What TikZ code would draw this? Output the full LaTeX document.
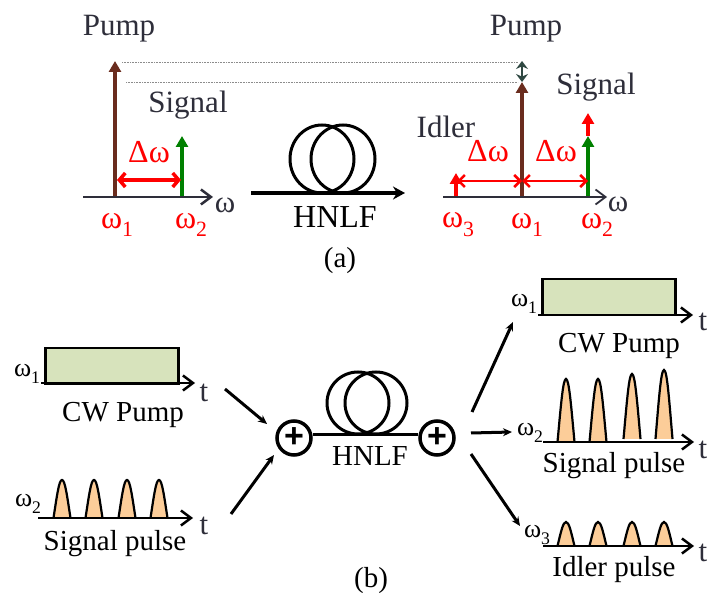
\documentclass[tikz,border=0pt]{standalone}
\usepackage{fontspec}
\setmainfont{Liberation Serif}
\newfontfamily\plusfont{Liberation Sans}
\usetikzlibrary{arrows.meta,positioning,calc,shapes.geometric}
\definecolor{inkgray}{RGB}{46,46,58}
\definecolor{pumpbrown}{RGB}{106,44,30}
\definecolor{signalgreen}{RGB}{0,128,0}
\definecolor{cwgreen}{RGB}{215,227,188}
\definecolor{pulseorange}{RGB}{252,205,153}
\definecolor{shiftgray}{RGB}{47,72,66}
\newcommand{\omegasub}[1]{ω\raisebox{-0.28em}{\scalebox{0.68}{#1}}}
\newcommand{\pulse}[3]{%
  \draw[pulseline] ({#1-8.5},#2) .. controls ({#1-5},{#2-0.6*(#2-#3)}) and ({#1-3},#3) .. (#1,#3)
    .. controls ({#1+3},#3) and ({#1+5},{#2-0.6*(#2-#3)}) .. ({#1+8.5},#2);}

\begin{document}
\begin{tikzpicture}[
            x=1pt, y=-1pt,
            lbl/.style={inner sep=0pt, font=\fontsize{31}{31}\selectfont, text=inkgray},
            lblb/.style={inner sep=0pt, font=\fontsize{29}{29}\selectfont, text=black},
            redlbl/.style={inner sep=0pt, font=\fontsize{32}{32}\selectfont, text=red},
            smalllbl/.style={inner sep=0pt, font=\fontsize{26}{26}\selectfont, text=black},
            axisline/.style={-{Straight Barb[length=10pt,width=15pt]}, line width=2.5pt, black},
            spec/.style={-{Triangle[length=11pt,width=12pt]}, line width=4pt},
            gap/.style={{Straight Barb[length=6pt,width=14pt]}-{Straight Barb[length=6pt,width=14pt]}, line width=3.5pt, red},
            gapthin/.style={{Straight Barb[length=6pt,width=12pt]}-{Straight Barb[length=6pt,width=12pt]}, line width=2.5pt, red},
            flow/.style={-{Stealth[length=9pt,width=8pt]}, line width=3pt, black},
            fiber/.style={line width=3pt, black},
            guide/.style={densely dotted, line width=0.6pt, black!45},
            cwbox/.style={draw=black, line width=2.5pt, fill=cwgreen, minimum width=133pt, minimum height=36pt, inner sep=0pt},
            pulseline/.style={draw=black, line width=2.2pt, fill=pulseorange},
            loopa/.style={draw=black, line width=3pt, ellipse, minimum width=64pt, minimum height=68pt, inner sep=0pt},
            loopb/.style={draw=black, line width=3pt, circle, minimum size=62pt, inner sep=0pt},
            adder/.style={circle, draw=black, line width=3.5pt, minimum size=34pt, inner sep=0pt,
                          font=\plusfont\bfseries\fontsize{34}{34}\selectfont}
        ]
            \useasboundingbox (0,0) rectangle (707,593);

            % Coordinates - spectrum (a), left
            \coordinate (axa0) at (83,197);
            \coordinate (axa1) at (213,197);
            \coordinate (pumpa0) at (115,197);
            \coordinate (pumpa1) at (115,61);
            \coordinate (siga0) at (182,197);
            \coordinate (siga1) at (182,136);

            % Coordinates - spectrum (a), right
            \coordinate (axc0) at (443,197);
            \coordinate (axc1) at (607,197);
            \coordinate (idlc0) at (456,197);
            \coordinate (idlc1) at (456,173);
            \coordinate (pumpc0) at (522,197);
            \coordinate (pumpc1) at (522,82);
            \coordinate (pumpc2) at (522,61);
            \coordinate (sigc0) at (588,197);
            \coordinate (sigc1) at (588,136);
            \coordinate (sigc2) at (588,113);
            \coordinate (gapc0) at (457,181);
            \coordinate (gapc1) at (522,181);
            \coordinate (gapc2) at (588,181);

            % Guides
            \coordinate (guide0) at (122,62);
            \coordinate (guide1) at (518,62);
            \coordinate (guide2) at (126,82);
            \coordinate (guide3) at (518,82);
            \draw[guide] (guide0) -- (guide1);
            \draw[guide] (guide2) -- (guide3);

            % Arrows - spectrum (a), left
            \draw[spec, pumpbrown] (pumpa0) -- (pumpa1);
            \draw[spec, signalgreen] (siga0) -- (siga1);
            \draw[axisline, inkgray] (axa0) -- (axa1);
            \coordinate (gapa0) at (117,180);
            \coordinate (gapa1) at (181,180);
            \draw[gap] (gapa0) -- (gapa1);

            % Arrows - spectrum (a), right
            \draw[{Stealth[length=8pt,width=12pt]}-{Stealth[length=8pt,width=12pt]}, line width=2.5pt, shiftgray] (pumpc1) -- (pumpc2);
            \draw[spec, pumpbrown] (pumpc0) -- (pumpc1);
            \draw[spec, red] (sigc1) -- (sigc2);
            \draw[spec, signalgreen] (sigc0) -- (sigc1);
            \draw[spec, red] (idlc0) -- (idlc1);
            \draw[axisline, inkgray, line width=1.8pt] (axc0) -- (axc1);
            \draw[gapthin] (gapc0) -- (gapc1);
            \draw[gapthin] (gapc1) -- (gapc2);

            % Labels - spectrum (a)
            \node[lbl] (pumpa) at (119,29) {Pump};
            \node[lbl] (signala) at (188,105) {Signal};
            \node[redlbl] (dwa) at (149,152) {Δω};
            \node[redlbl] (w1a) at (117,225) {\omegasub{1}};
            \node[redlbl] (w2a) at (191,225) {\omegasub{2}};
            \node[lbl] (wa) at (225,205) {ω};
            \node[lbl] (pumpc) at (526,29) {Pump};
            \node[lbl] (signalc) at (596,87) {Signal};
            \node[lbl] (idlerc) at (446,127) {Idler};
            \node[redlbl] (dwc1) at (488,151) {Δω};
            \node[redlbl] (dwc2) at (556,151) {Δω};
            \node[redlbl] (w3c) at (458,225) {\omegasub{3}};
            \node[redlbl] (w1c) at (527,225) {\omegasub{1}};
            \node[redlbl] (w2c) at (597,225) {\omegasub{2}};
            \node[lbl] (wc) at (618,204) {ω};

            % Fiber (a)
            \node[loopa] (loopa1) at (322,159) {};
            \node[loopa] (loopa2) at (343,159) {};
            \coordinate (fibera0) at (251,193);
            \coordinate (fibera1) at (405,193);
            \draw[fiber, -{Stealth[length=12pt,width=13pt]}, line width=3.5pt] (fibera0) -- (fibera1);
            \node[lblb, font=\fontsize{32}{32}\selectfont] (hnlfa) at (335,217) {HNLF};
            \node[lblb] (capa) at (340,261) {(a)};

            % Inputs (b)
            \node[cwbox, anchor=north west] (cwin) at (44,347) {};
            \coordinate (axin0) at (41,383);
            \coordinate (axin1) at (195,383);
            \draw[axisline] (axin0) -- (axin1);
            \node[lbl] (tin1) at (204,393) {t};
            \node[smalllbl] (w1in) at (27,374) {\omegasub{1}};
            \node[lblb] (cwinl) at (123,415) {CW Pump};
            \foreach \px in {62,94,127,159} { \pulse{\px}{518}{480} }
            \coordinate (axin2) at (38,518);
            \coordinate (axin3) at (193,518);
            \draw[axisline] (axin2) -- (axin3);
            \node[lbl] (tin2) at (204,526) {t};
            \node[smalllbl] (w2in) at (28,504) {\omegasub{2}};
            \node[lblb] (sigin) at (115,544) {Signal pulse};

            % Fiber (b)
            \node[loopb] (loopb1) at (358,403) {};
            \node[loopb] (loopb2) at (376,403) {};
            \node[adder] (addl) at (294,438) {+};
            \node[adder] (addr) at (437,438) {+};
            \draw[fiber] (addl.east |- 0,435) -- (addr.west |- 0,435);
            \node[lblb] (hnlfb) at (370,456) {HNLF};
            \node[lblb] (capb) at (371,581) {(b)};

            % Arrows (b)
            \coordinate (in1a) at (225,389);
            \coordinate (in1b) at (267,424);
            \coordinate (in2a) at (231,514);
            \coordinate (in2b) at (274,455);
            \coordinate (out1a) at (472,412);
            \coordinate (out1b) at (513,322);
            \coordinate (out2a) at (471,433);
            \coordinate (out2b) at (512,432);
            \coordinate (out3a) at (471,454);
            \coordinate (out3b) at (520,526);
            \draw[flow] (in1a) -- (in1b);
            \draw[flow] (in2a) -- (in2b);
            \draw[flow] (out1a) -- (out1b);
            \draw[flow] (out2a) -- (out2b);
            \draw[flow] (out3a) -- (out3b);

            % Outputs (b)
            \node[cwbox, anchor=north west] (cwout) at (541,278) {};
            \coordinate (axout0) at (538,315);
            \coordinate (axout1) at (693,315);
            \draw[axisline] (axout0) -- (axout1);
            \node[lbl] (tout1) at (703,322) {t};
            \node[smalllbl] (w1out) at (524,304) {\omegasub{1}};
            \node[lblb] (cwoutl) at (619,346) {CW Pump};
            \pulse{566}{442}{379}
            \pulse{598}{442}{379}
            \pulse{632}{439}{374}
            \pulse{664}{439}{370}
            \coordinate (axout2) at (543,442);
            \coordinate (axout3) at (694,442);
            \draw[axisline] (axout2) -- (axout3);
            \node[lbl] (tout2) at (703,450) {t};
            \node[smalllbl] (w2out) at (530,433) {\omegasub{2}};
            \node[lblb] (sigout) at (614,466) {Signal pulse};
            \foreach \px in {566,598,632,664} { \pulse{\px}{546}{522} }
            \coordinate (axout4) at (543,546);
            \coordinate (axout5) at (694,546);
            \draw[axisline] (axout4) -- (axout5);
            \node[lbl] (tout3) at (703,553) {t};
            \node[smalllbl] (w3out) at (537,535) {\omegasub{3}};
            \node[lblb] (idlout) at (614,570) {Idler pulse};
        \end{tikzpicture}
\end{document}
